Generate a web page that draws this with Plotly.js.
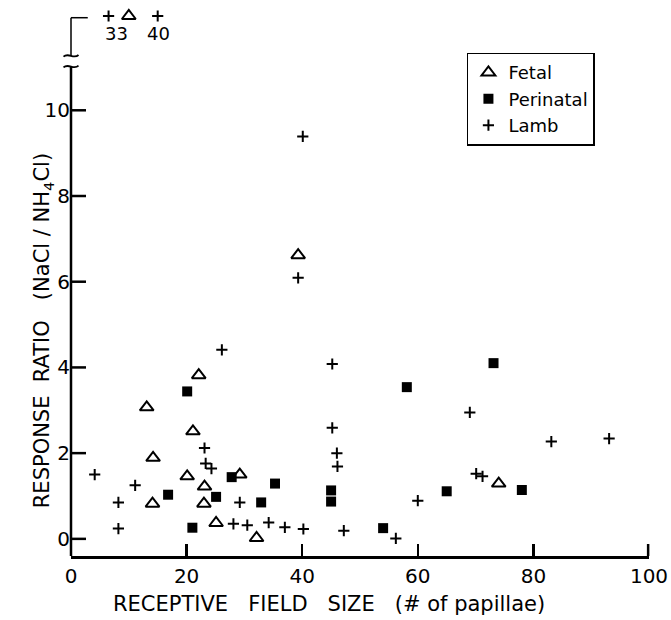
<!DOCTYPE html>
<html>
<head>
<meta charset="utf-8">
<script src="https://cdn.plot.ly/plotly-3.0.1.min.js"></script>
<style>html,body{margin:0;padding:0;background:#fff;}#chart{width:671px;height:620px;}</style>
</head>
<body>
<div id="chart"></div>
<script>
// Fetal (open triangles)
const fetalX = [13.1, 22.1, 21.1, 14.2, 20.1, 23.1, 23.0, 14.1, 29.2, 25.1, 32.1, 39.3, 74.0];
const fetalY = [3.07, 3.82, 2.51, 1.89, 1.46, 1.22, 0.82, 0.82, 1.50, 0.37, 0.02, 6.62, 1.29];
// Perinatal (filled squares)
const perinatalX = [20.1, 16.8, 21.0, 25.1, 27.8, 32.9, 35.3, 45.0, 45.0, 73.1, 58.1, 65.0, 78.0, 54.0];
const perinatalY = [3.44, 1.03, 0.26, 0.98, 1.44, 0.85, 1.29, 1.13, 0.87, 4.10, 3.54, 1.11, 1.14, 0.25];
// Lamb (crosses)
const lambX = [4.1, 8.2, 8.2, 11.1, 26.1, 23.1, 23.3, 24.3, 29.2, 28.1, 30.5, 34.2, 37.0, 40.2, 45.2, 45.2, 46.0, 46.1, 47.2, 56.2, 60.0, 69.0, 70.1, 71.2, 83.1, 93.1, 39.3, 40.1];
const lambY = [1.50, 0.85, 0.24, 1.25, 4.41, 2.12, 1.76, 1.64, 0.85, 0.35, 0.32, 0.38, 0.27, 0.23, 4.08, 2.59, 2.00, 1.69, 0.19, 0.01, 0.89, 2.95, 1.52, 1.46, 2.27, 2.34, 6.09, 9.39];
// Off-scale points (above the axis break)
const lambOffX = [6.5, 15.0];
const lambOffValues = [33, 40];
const fetalOffX = [10.0];
// Axis ticks
const xTicks = [0, 20, 40, 60, 80, 100];
const yTicks = [0, 2, 4, 6, 8, 10];

const TOP_ROW = 12.2;
const FONT = 'DejaVu Sans, Arial, sans-serif';

const triMarker = {symbol: 'triangle-up-open', size: 12, color: '#000', line: {color: '#000', width: 2}};
const sqMarker = {symbol: 'square', size: 10, color: '#000', line: {width: 0}};
const crossMarker = {symbol: 'cross-thin-open', size: 8, color: '#000', line: {color: '#000', width: 2}};

const traces = [
  {x: fetalX, y: fetalY, mode: 'markers', type: 'scatter', name: 'Fetal', marker: triMarker, cliponaxis: false},
  {x: perinatalX, y: perinatalY, mode: 'markers', type: 'scatter', name: 'Perinatal', marker: sqMarker, cliponaxis: false},
  {x: lambX, y: lambY, mode: 'markers', type: 'scatter', name: 'Lamb', marker: crossMarker, cliponaxis: false},
  {x: fetalOffX, y: fetalOffX.map(() => TOP_ROW), mode: 'markers', type: 'scatter', showlegend: false, marker: triMarker, cliponaxis: false},
  {x: lambOffX, y: lambOffX.map(() => TOP_ROW), mode: 'markers', type: 'scatter', showlegend: false, marker: crossMarker, cliponaxis: false}
];

const labelShift = [8, 1];
const annotations = lambOffValues.map((v, i) => ({
  x: lambOffX[i], y: TOP_ROW, xref: 'x', yref: 'y', text: String(v), showarrow: false,
  yshift: -17, xshift: labelShift[i], font: {family: FONT, size: 18, color: '#000'}
}));
annotations.push({
  x: -0.074, xref: 'paper', y: 4.85, yref: 'y', text: 'RESPONSE  RATIO   (NaCl / NH<sub>4</sub>Cl)',
  textangle: -90, showarrow: false, font: {family: FONT, size: 21, color: '#000'}
});
annotations.push({
  x: 0.446, xref: 'paper', y: -0.089, yref: 'paper', yanchor: 'middle', text: 'RECEPTIVE   FIELD   SIZE   (# of papillae)',
  showarrow: false, font: {family: FONT, size: 21, color: '#000'}
});

function squiggle(yy) {
  const w = 0.013, h = 0.09;
  return {type: 'path', xref: 'paper', yref: 'y',
    path: `M ${-w},${yy - 0.02} C ${-w / 3},${yy + h} ${w / 3},${yy - h} ${w},${yy + 0.02}`,
    line: {color: '#000', width: 1.8}};
}

const shapes = [
  {type: 'line', xref: 'paper', yref: 'y', x0: 0, x1: 0, y0: -0.4, y1: 11.02, line: {color: '#000', width: 2.5}},
  {type: 'line', xref: 'paper', yref: 'y', x0: 0, x1: 0, y0: 11.27, y1: 12.16, line: {color: '#000', width: 1.5}},
  {type: 'line', xref: 'paper', yref: 'y', x0: 0, x1: 0.029, y0: 12.16, y1: 12.16, line: {color: '#000', width: 1.5}},
  squiggle(11.02),
  squiggle(11.27),
  // end tick at x = 100 (Plotly drops inside ticks on the plot edge)
  {type: 'line', xref: 'paper', yref: 'paper', x0: 0.9985, x1: 0.9985, y0: 0, y1: 12 / 540, line: {color: '#000', width: 2.5}}
];
// y-axis tick marks (inside)
yTicks.forEach(t => shapes.push({type: 'line', xref: 'paper', yref: 'y', x0: 0, x1: 15 / 578, y0: t, y1: t, line: {color: '#000', width: 2.5}}));

const layout = {
  width: 671, height: 620,
  margin: {l: 71, r: 22, t: 16, b: 64},
  paper_bgcolor: '#fff', plot_bgcolor: '#fff',
  font: {family: FONT, size: 20, color: '#000'},
  xaxis: {
    range: [0, 100], tickvals: xTicks, ticktext: xTicks.map(String),
    ticks: 'inside', ticklen: 12, tickwidth: 2.5, tickcolor: '#000',
    showline: true, linecolor: '#000', linewidth: 2.5, showgrid: false, zeroline: false,
    tickfont: {family: FONT, size: 20, color: '#000'}
  },
  yaxis: {
    range: [-0.4, 12.2], tickvals: yTicks, ticktext: yTicks.map(String),
    ticks: '', showline: false, showgrid: false, zeroline: false,
    tickfont: {family: FONT, size: 20, color: '#000'}
  },
  legend: {
    x: 0.685, y: 0.932, xanchor: 'left', yanchor: 'top',
    bordercolor: '#000', borderwidth: 1.5, bgcolor: '#fff',
    font: {family: FONT, size: 18, color: '#000'}, tracegroupgap: 0
  },
  annotations: annotations,
  shapes: shapes,
  showlegend: true
};

Plotly.newPlot('chart', traces, layout, {displayModeBar: false, staticPlot: true});
</script>
</body>
</html>
